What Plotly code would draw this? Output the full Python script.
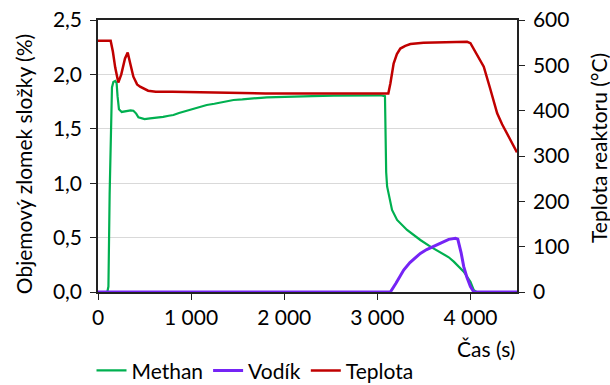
import plotly.graph_objects as go

# Methan (vol. %), left axis
methan_t = [0, 100, 112, 125, 150, 165, 185, 200, 210, 225, 255, 300, 350, 380, 410, 434, 470,
            500, 559, 620, 700, 760, 810, 870, 930, 989, 1050, 1097, 1168, 1250, 1330, 1400,
            1455, 1550, 1650, 1750, 1814, 1900, 2000, 2172, 2300, 2530, 2800, 3032, 3082,
            3088, 3095, 3105, 3122, 3158, 3212, 3319, 3462, 3570, 3767, 3821, 3928, 4000,
            4036, 4065, 4500]
methan_v = [0, 0, 0.05, 0.9, 1.88, 1.93, 1.94, 1.92, 1.80, 1.68, 1.655, 1.66, 1.67, 1.666,
            1.64, 1.605, 1.60, 1.59, 1.596, 1.60, 1.61, 1.62, 1.627, 1.645, 1.66, 1.673, 1.69,
            1.703, 1.719, 1.73, 1.745, 1.755, 1.765, 1.77, 1.78, 1.785, 1.789, 1.79, 1.793,
            1.795, 1.80, 1.805, 1.805, 1.808, 1.80, 1.40, 1.10, 0.97, 0.907, 0.754, 0.662,
            0.570, 0.478, 0.417, 0.319, 0.279, 0.187, 0.095, 0.018, 0, 0]

# Vodik (vol. %), left axis
vodik_t = [0, 3140, 3200, 3283, 3350, 3400, 3462, 3530, 3606, 3680, 3767, 3800, 3839, 3864,
           3900, 3928, 3960, 4000, 4036, 4500]
vodik_v = [0, 0, 0.08, 0.202, 0.27, 0.31, 0.355, 0.39, 0.417, 0.45, 0.484, 0.49, 0.493, 0.485,
           0.36, 0.233, 0.14, 0.049, 0, 0]

# Teplota reaktoru (degC), right axis
teplota_t = [0, 136, 160, 185, 218, 250, 290, 319, 345, 380, 420, 452, 538, 620, 800, 1000,
             1200, 1400, 1600, 1800, 2200, 2600, 3000, 3118, 3140, 3175, 3210, 3247, 3300,
             3355, 3495, 3700, 3964, 4000, 4070, 4143, 4210, 4287, 4340, 4394, 4450, 4500]
teplota_v = [554, 554, 530, 495, 462, 480, 515, 528, 505, 475, 458, 453, 444, 442, 442, 441,
             441, 440, 439, 438, 438, 438, 438, 438, 460, 504, 525, 537, 543, 547, 550, 551,
             552, 549, 525, 497, 450, 394, 370, 350, 328, 308]

x_ticks = [0, 1000, 2000, 3000, 4000]
left_ticks = [0.0, 0.5, 1.0, 1.5, 2.0, 2.5]
right_ticks = [0, 100, 200, 300, 400, 500, 600]

FONT = "Lato, sans-serif"
FS = 21

fig = go.Figure()
fig.add_trace(go.Scatter(x=methan_t, y=methan_v, name="Methan", mode="lines",
                         line=dict(color="#00B050", width=2.2)))
fig.add_trace(go.Scatter(x=vodik_t, y=vodik_v, name="Vodík", mode="lines",
                         line=dict(color="#7524F5", width=3)))
fig.add_trace(go.Scatter(x=teplota_t, y=teplota_v, name="Teplota", mode="lines", yaxis="y2",
                         line=dict(color="#C00000", width=2.5)))

fig.update_layout(
    width=610, height=385,
    margin=dict(l=98, r=93, t=20, b=93, autoexpand=False),
    paper_bgcolor="white", plot_bgcolor="white",
    separators=", ",
    font=dict(family=FONT, size=FS, color="black"),
    showlegend=True,
    legend=dict(orientation="h", x=0.15, y=0.037, xref="container", yref="container",
                xanchor="left", yanchor="middle",
                font=dict(family=FONT, size=FS), itemwidth=30, bgcolor="rgba(0,0,0,0)",
                tracegroupgap=0),
    xaxis=dict(range=[0, 4500], tickvals=x_ticks, tickformat=",d",
               showline=True, linecolor="#222", linewidth=1.5, mirror=True,
               ticks="outside", ticklen=6, tickcolor="#222", showgrid=False, zeroline=False,
               layer="below traces"),
    yaxis=dict(range=[0, 2.5], tickvals=left_ticks, tickformat=".1f",
               showline=True, linecolor="#222", linewidth=1.5,
               ticks="outside", ticklen=6, tickcolor="#222", ticklabelstandoff=4,
               showgrid=True, gridcolor="#D9D9D9", gridwidth=1.3, zeroline=False,
               layer="below traces"),
    yaxis2=dict(range=[0, 600], tickvals=right_ticks, overlaying="y", side="right",
                showline=True, linecolor="#222", linewidth=1.5,
                ticks="outside", ticklen=6, tickcolor="#222", ticklabelstandoff=4,
                showgrid=False, zeroline=False, layer="below traces"),
    annotations=[
        dict(text="Objemový zlomek složky (%)", xref="paper", yref="paper",
             x=-0.179, y=0.47, xanchor="center", yanchor="middle",
             textangle=-90, showarrow=False),
        dict(text="Teplota reaktoru (°C)", xref="paper", yref="paper",
             x=1.196, y=0.53, xanchor="center", yanchor="middle",
             textangle=-90, showarrow=False),
        dict(text="Čas (s)", xref="paper", yref="paper", x=1.0, y=-0.206,
             xanchor="right", yanchor="middle", showarrow=False),
    ],
)

fig.write_html("out.html")
